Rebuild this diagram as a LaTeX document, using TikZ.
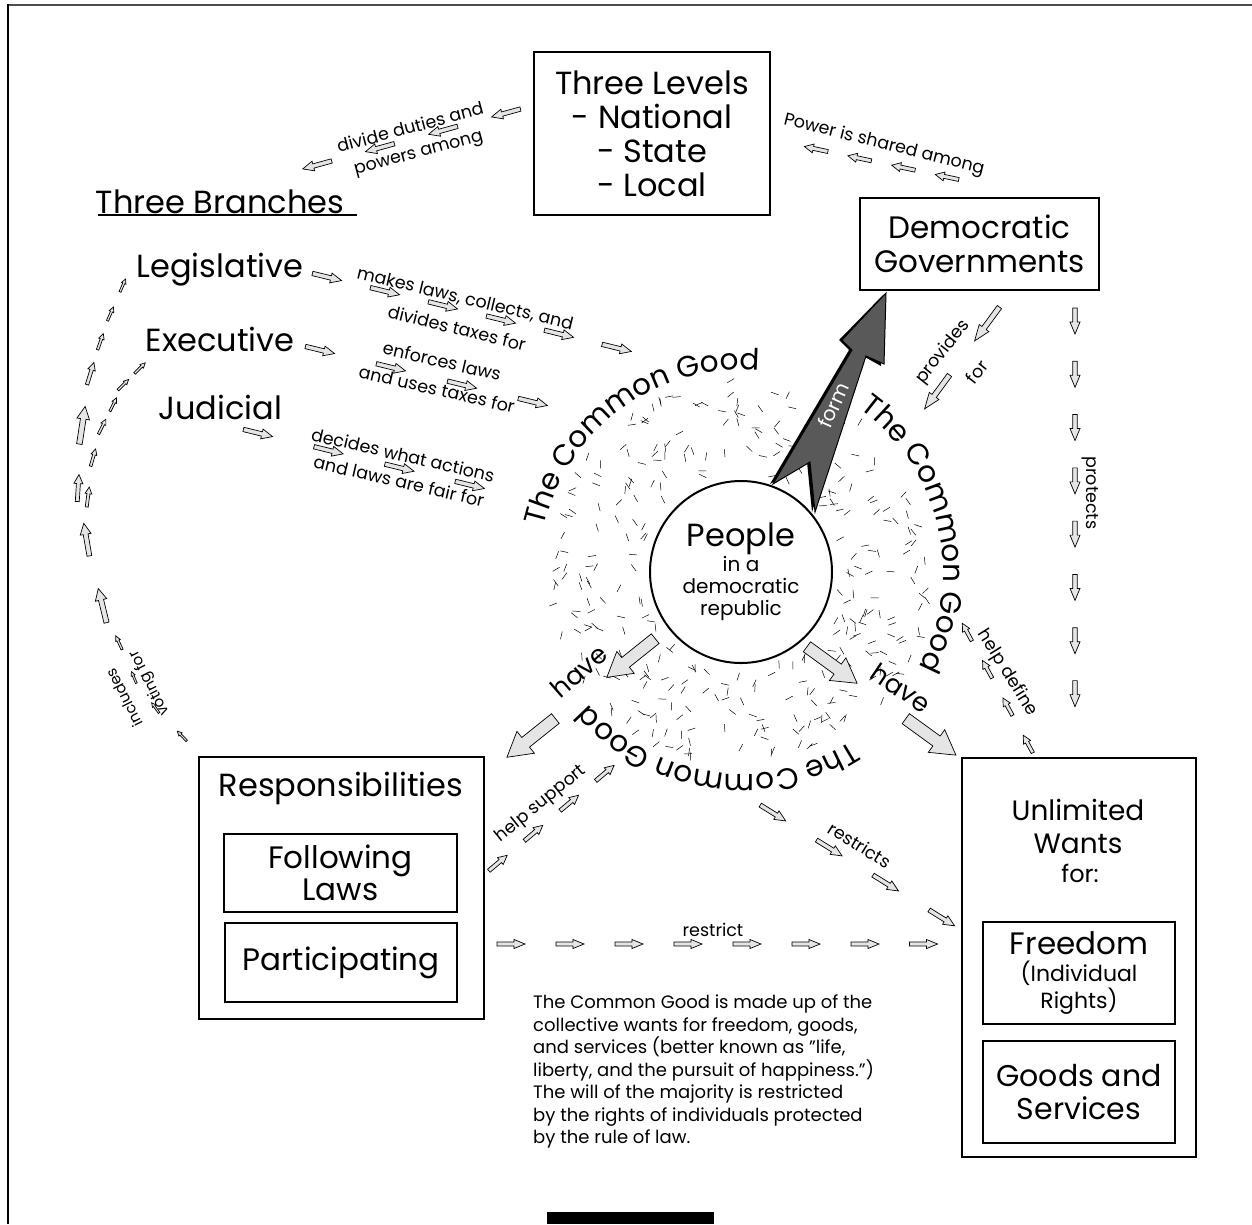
\documentclass[tikz,border=0pt]{standalone}
\usepackage{fontspec}
\setmainfont{Poppins}
\usetikzlibrary{calc,decorations.markings,decorations.text}
\newcommand\fs[2]{\fontsize{#1}{#2}\selectfont}
\def\bkL{30}\def\bkW{10}\def\bkH{10}
\newcommand\blkarrow[1]{\draw[blkst, scale=#1] ({-\bkL/2},{-0.22*\bkW}) -- ({\bkL/2-\bkH},{-0.22*\bkW}) -- ({\bkL/2-\bkH},{-\bkW/2}) -- ({\bkL/2},0) -- ({\bkL/2-\bkH},{\bkW/2}) -- ({\bkL/2-\bkH},{0.22*\bkW}) -- ({-\bkL/2},{0.22*\bkW}) -- cycle;}
\pgfkeys{/pgf/decoration/bk/.style={mark=at position #1 with {\blkarrow{1}}},
 /pgf/decoration/bks/.style args={#1/#2}{mark=at position #1 with {\blkarrow{#2}}}}
\tikzset{
 blk/.code args={#1/#2/#3}{\def\bkL{#1}\def\bkW{#2}\def\bkH{#3}},
 blkst/.style={draw=black, fill=black!10, line width=0.7pt, line join=miter},
 bchain/.style={decorate, decoration={markings, bk/.list={#1}}},
 bchains/.style={decorate, decoration={markings, bks/.list={#1}}},
 box/.style={draw, line width=2pt, fill=white, inner sep=0pt, align=center},
 big/.style={font=\fs{32}{36}, align=center, inner sep=1pt},
 lbl/.style={font=\fs{17.5}{20}, inner sep=0pt},
 dashst/.style={line width=0.5pt},
 arctext/.style={decorate, decoration={text along path, text align=center, text={|\fs{29.5}{34}|The Common Good}}},
}
\begin{document}
\begin{tikzpicture}[x=1pt,y=1pt]
\useasboundingbox (0,0) rectangle (1252,-1224);
\draw[line width=2.5pt, black!70] (7,-5) -- (1252,-5);
\draw[line width=2pt] (8,-4) -- (8,-1224);
\fill (547,-1212) rectangle (714,-1224);

% ---------- boxes and main texts
\node[box, minimum width=236, minimum height=163, font=\fs{32}{34}] (TL) at (652,-133.5) {Three Levels\\- National\\- State\\- Local};
\node[box, minimum width=239, minimum height=92, font=\fs{31}{34}] (DG) at (979.5,-244) {Democratic\\Governments};
\node[big] (TB) at (220,-202) {Three Branches};
\draw[line width=2pt] ($(TB.center)+(-122,-13)$) -- ($(TB.center)+(137,-13)$);
\node[big] (Leg) at (220,-270) {Legislative};
\node[big] (Exe) at (220,-339) {Executive};
\node[big] (Jud) at (220,-407) {Judicial};

\node[box, minimum width=285, minimum height=262] (Resp) at (341.5,-888) {};
\node[big] (RespT) at (341,-788) {Responsibilities};
\node[box, minimum width=233, minimum height=78, font=\fs{31}{32}] (FL) at (340.5,-873) {Following\\Laws};
\node[box, minimum width=232, minimum height=79, font=\fs{31}{32}] (Part) at (341,-962.5) {Participating};

\node[box, minimum width=234, minimum height=399] (UW) at (1079,-957.5) {};
\node[big, font=\fs{28}{33}] (UWt) at (1078,-826.5) {Unlimited\\Wants};
\node[big, font=\fs{24}{26}] (UWf) at (1080,-873) {for:};
\node[box, minimum width=192, minimum height=102, font=\fs{22}{27}] (Free) at (1079,-973) {{\fs{31}{32}Freedom}\\(Individual\\Rights)};
\node[box, minimum width=192, minimum height=102, font=\fs{30}{33}] (GS) at (1079,-1092) {Goods and\\Services};

% ---------- people circle and speckles
\node[circle, draw, line width=2pt, fill=white, minimum size=182, inner sep=0pt, align=center, font=\fs{20}{22}] (P) at (741,-572) {{\fs{32}{34}People}\\in a\\democratic\\republic};
\pgfmathsetseed{17}
\foreach \i in {1,...,330}{
  \pgfmathsetmacro\ang{360*rnd}
  \pgfmathsetmacro\rad{10*sqrt(rnd*(19.2*19.2-9.9*9.9)+9.9*9.9)}
  \pgfmathsetmacro\da{360*rnd}
  \draw[dashst] (P.center) ++(\ang:\rad) ++(\da:4) -- ++(\da:-8);
}
\path[arctext] ($(P.center)+(176:202)$) arc[start angle=176, end angle=76, radius=202];
\path[arctext] ($(P.center)+(62:202)$) arc[start angle=62, end angle=-36, radius=202];
\path[arctext] ($(P.center)+(-52:202)$) arc[start angle=-52, end angle=-144, radius=202];

% ---------- form arrow
\fill[black] ([shift={(-3,-2)}]886,-293) -- ++(-2,-71) -- (863,-356) -- (812,-512) -- (807,-462) -- (770,-484) -- (849,-350) -- (839,-340) -- cycle;
\draw[fill=black!65, line width=1pt] (886,-293) coordinate (formtip) -- (884,-364) -- (866,-356) -- (815,-512) -- (810,-462) -- (773,-484) -- (852,-350) -- (842,-340) -- cycle;
\node[font=\fs{20}{22}, text=white, rotate=66, inner sep=0pt] (formlbl) at (833,-405) {form};

% ---------- arrow chains
\path[blk=30/10/11, bchain={0,0.333,0.667,0.999}] ([shift={(-27,20.5)}]TL.west) -- ([shift={(97,37)}]TB.center);
\path[blk=24/9/9, bchain={0,0.333,0.667,0.999}] ([shift={(88,20)}]DG.north west) -- ([shift={(45,-15.5)}]TL.east);
\path[blk=30/10/11, bchain={0,0.2,0.4,0.6,0.8,0.999}] ([shift={(107,-7)}]Leg.center) -- ([shift={(-124,224)}]P.center);
\path[blk=30/10/11, bchain={0,0.333,0.667,0.999}] ([shift={(100,-11)}]Exe.center) -- ([shift={(-208,170)}]P.center);
\path[blk=30/10/11, bchain={0,0.333,0.667,0.999}] ([shift={(38,-26)}]Jud.center) -- ([shift={(-271,87)}]P.center);
\path[blk=42/12/16, bchain={0,0.999}] ([shift={(7.5,-33)}]DG.south) -- ([shift={(196,180)}]P.center);
\path[blk=26/10/12, bchain={0,0.1428,0.2857,0.4286,0.5714,0.7143,0.8571,0.999}] ([shift={(95.5,-30)}]DG.south) -- ([shift={(-4,63)}]UW.north);
\path[blk=20/8/8, bchain={0,0.333,0.667,0.999}] ([shift={(-51,13)}]UW.north) -- ([shift={(226,-60)}]P.center);
\path[blk=62/28/24, bchain={0,0.999}] ([shift={(-110,-86)}]P.center) -- ([shift={(46,18)}]Resp.north east);
\path[blk=62/28/24, bchain={0,0.999}] ([shift={(91,-93)}]P.center) -- ([shift={(-30,20)}]UW.north west);
\path[blk=24/9/9, bchain={0,0.333,0.667,0.999}] ([shift={(13,25)}]Resp.east) -- ([shift={(-136,-201)}]P.center);
\path[blk=30/10/11, bchain={0,0.333,0.667,0.999}] ([shift={(32,-241)}]P.center) -- ([shift={(-19,39.5)}]UW.west);
\path[blk=28/9/11, bchain={0,0.1428,0.2857,0.4286,0.5714,0.7143,0.8571,0.999}] ([shift={(26,-56)}]Resp.east) -- ([shift={(-37,13.5)}]UW.west);
\coordinate (v0) at ([shift={(-16,20)}]Resp.north west);
\coordinate (v11) at ([shift={(-97,-15)}]Leg.center);
\path[blk=30/10/10, bchains={0/0.45,0.080/0.42,0.157/0.42,0.235/0.5,0.319/1.17,0.459/1.1,0.567/0.9,0.697/1.27,0.805/0.77,0.874/0.57,0.935/0.5,0.999/0.47}] (v0) -- (157,-710) -- (135,-680) -- (120,-645) -- (103,-608) -- (87,-542) -- (78,-490) -- (82,-427) -- (90,-375) -- (100,-343) -- (110,-315) -- (v11);
\coordinate (vm) at (88,-497);
\coordinate (v5) at ([shift={(-80,-29)}]Exe.center);
\path[blk=30/10/10, bchains={0/0.67,0.279/0.6,0.505/0.55,0.678/0.5,0.834/0.5,0.999/0.5}] (vm) -- (93,-458) -- (102,-427) -- (113,-405) -- (123,-385) -- (v5);

% ---------- connector labels
\node[lbl, rotate=15] (l1a) at (410,-127) {divide duties and};
\node[lbl, rotate=15] (l1b) at (419,-155) {powers among};
\node[lbl, rotate=-14] (l2) at (884,-145) {Power is shared among};
\node[lbl, rotate=-13.5] (l3a) at (465,-299) {makes laws, collects, and};
\node[lbl, rotate=-14] (l3b) at (457,-328) {divides taxes for};
\node[lbl, rotate=-13] (l4a) at (442,-361) {enforces laws};
\node[lbl, rotate=-13] (l4b) at (437,-389) {and uses taxes for};
\node[lbl, rotate=-13] (l5a) at (403,-455) {decides what actions};
\node[lbl, rotate=-13] (l5b) at (399,-481) {and laws are fair for};
\node[lbl, rotate=52] (l6a) at (943,-352) {provides};
\node[lbl, rotate=52] (l6b) at (977,-372) {for};
\node[lbl, rotate=-90] (l7) at (1090,-493) {protects};
\node[lbl, rotate=-58] (l8) at (1007,-673) {help define};
\node[lbl, font=\fs{26}{28}, rotate=41] (l9) at (579,-671) {have};
\node[lbl, font=\fs{26}{28}, rotate=-34] (l10) at (901,-688) {have};
\node[lbl, rotate=39] (l11) at (541,-804) {help support};
\node[lbl, rotate=-32] (l12) at (860,-845) {restricts};
\node[lbl] (l13) at (713,-930) {restrict};
\node[lbl, font=\fs{15}{18}, rotate=117] (l14a) at (124,-698) {includes};
\node[lbl, font=\fs{15}{18}, rotate=117] (l14b) at (150,-683) {voting for};

% ---------- paragraph
\node[anchor=north west, align=left, font=\fs{18}{22.5}, inner sep=0pt] (para) at (533,-995) {The Common Good is made up of the\\collective wants for freedom, goods,\\and services (better known as "life,\\liberty, and the pursuit of happiness.")\\The will of the majority is restricted\\by the rights of individuals protected\\by the rule of law.};
\end{tikzpicture}
\end{document}
